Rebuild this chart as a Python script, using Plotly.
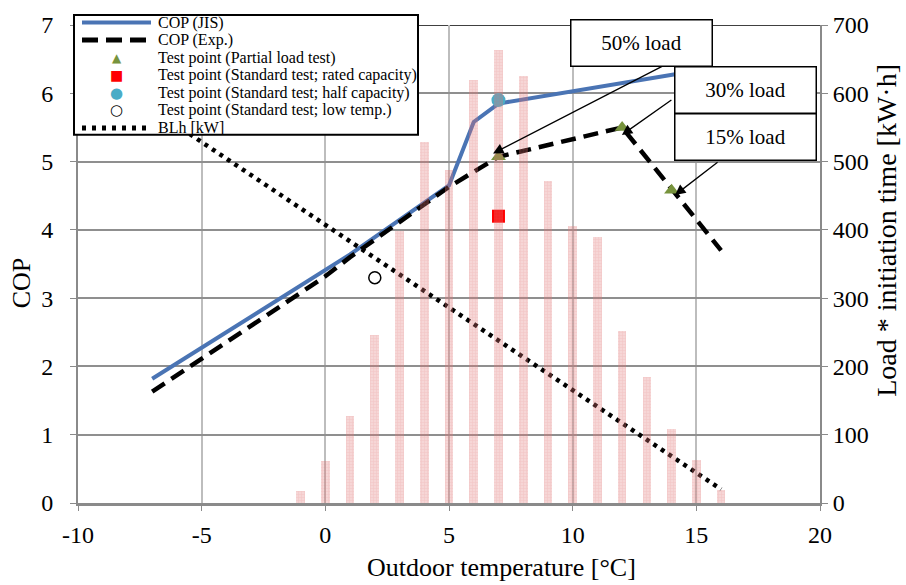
import plotly.graph_objects as go

# ---- data ----
bar_temp = [-1, 0, 1, 2, 3, 4, 5, 6, 7, 8, 9, 10, 11, 12, 13, 14, 15, 16]
bar_load = [17, 61, 127, 246, 399, 528, 488, 619, 664, 626, 472, 406, 389, 252, 185, 109, 63, 19]

jis_x = [-7, 1, 5, 6, 7, 15]
jis_y = [1.82, 3.64, 4.65, 5.58, 5.85, 6.33]

exp_x = [-7, 0, 1, 5, 7, 12, 16]
exp_y = [1.63, 3.32, 3.60, 4.63, 5.07, 5.50, 3.70]

partial_x = [7, 12, 14]
partial_y = [5.07, 5.50, 4.58]

rated_x = [7]
rated_y = [4.20]

half_x = [7]
half_y = [5.90]

low_x = [2]
low_y = [3.30]

blh_x = [-7, 16]
blh_y = [5.77, 0.20]

x_ticks = [-10, -5, 0, 5, 10, 15, 20]
x_ticklabels = ["-10", "-5", "0", "5", "10", "15", "20"]

callout_text = ["50% load", "30% load", "15% load"]
callout_x = [6.78, 11.99, 14.14]
callout_y = [5.12, 5.39, 4.51]

legend_names = ["COP (JIS)", "COP (Exp.)", "Test point (Partial load test)",
                "Test point (Standard test; rated capacity)",
                "Test point (Standard test; half capacity)",
                "Test point (Standard test; low temp.)", "BLh [kW]"]

x_title = "Outdoor temperature [°C]"
y_title = "COP"
y2_title = "Load * initiation time [kW·h]"

FONT = "Liberation Serif"
BLUE = "#4A74B4"
GREEN = "#77933C"
CYAN = "#4BACC6"

fig = go.Figure()

fig.add_trace(go.Bar(
    x=bar_temp, y=bar_load, yaxis="y2", width=0.35,
    marker=dict(color="rgba(228,120,120,0.30)", line=dict(width=0),
                pattern=dict(shape="+", size=3, solidity=0.25,
                             fgcolor="rgba(220,90,90,0.35)")),
    showlegend=False, hoverinfo="skip"))

fig.add_trace(go.Scatter(x=jis_x, y=jis_y, mode="lines", name=legend_names[0],
                         line=dict(color=BLUE, width=4)))
fig.add_trace(go.Scatter(x=exp_x, y=exp_y, mode="lines", name=legend_names[1],
                         line=dict(color="black", width=4.5, dash="15px,8px")))
fig.add_trace(go.Scatter(x=partial_x, y=partial_y, mode="markers", name=legend_names[2],
                         marker=dict(symbol="triangle-up", size=13, color=GREEN)))
fig.add_trace(go.Scatter(x=rated_x, y=rated_y, mode="markers", name=legend_names[3],
                         marker=dict(symbol="square", size=13, color="#FF0000")))
fig.add_trace(go.Scatter(x=half_x, y=half_y, mode="markers", name=legend_names[4],
                         marker=dict(symbol="circle", size=14, color=CYAN)))
fig.add_trace(go.Scatter(x=low_x, y=low_y, mode="markers", name=legend_names[5],
                         marker=dict(symbol="circle", size=12, color="white",
                                     line=dict(color="black", width=1.5))))
fig.add_trace(go.Scatter(x=blh_x, y=blh_y, mode="lines", name=legend_names[6],
                         line=dict(color="black", width=4.5, dash="4px,5px")))

# arrows (tail offsets in pixels)
arrow_ax = [171, 51, 44]
arrow_ay = [-88, -36, -34]
for xx, yy, axp, ayp in zip(callout_x, callout_y, arrow_ax, arrow_ay):
    fig.add_annotation(x=xx, y=yy, xref="x", yref="y", text="", showarrow=True,
                       ax=axp, ay=ayp, arrowhead=2, arrowsize=1.6, arrowwidth=1.3,
                       arrowcolor="black")

L, R, T, B = 78, 820, 20, 503
W, H = R - L, B - T


def px(xp):
    return (xp - L) / W


def py(yp):
    return (B - yp) / H


# callout boxes
box_px = [(641.5, 38), (745.5, 85.5), (745.5, 133.5)]
for txt, (cx, cy) in zip(callout_text, box_px):
    fig.add_annotation(x=px(cx), y=py(cy), xref="paper", yref="paper",
                       text=txt, showarrow=False, xanchor="center", yanchor="middle",
                       width=140, height=45, borderpad=0, bgcolor="white",
                       bordercolor="black", borderwidth=1.5,
                       font=dict(family=FONT, size=21, color="black"))

# axis titles
fig.add_annotation(x=px(501), y=py(568), xref="paper", yref="paper", text=x_title,
                   showarrow=False, xanchor="center", yanchor="middle",
                   font=dict(family=FONT, size=26, color="black"))
fig.add_annotation(x=px(21), y=py(280), xref="paper", yref="paper", text=y_title,
                   showarrow=False, xanchor="center", yanchor="middle", textangle=-90,
                   font=dict(family=FONT, size=26, color="black"))
fig.add_annotation(x=px(887), y=py(228), xref="paper", yref="paper", text=y2_title,
                   showarrow=False, xanchor="center", yanchor="middle", textangle=-90,
                   font=dict(family=FONT, size=28, color="black"))

# custom legend box (drawn with shapes and annotations)
fig.add_shape(type="rect", xref="paper", yref="paper", x0=px(74), x1=px(418),
              y0=py(131), y1=py(10), fillcolor="white",
              line=dict(color="black", width=2), layer="above")
rows = [17.5, 35.2, 53.0, 70.7, 88.4, 106.2, 124.0]
sx0, sx1, smid, tx = 82, 151, 116.5, 156
fig.add_shape(type="line", xref="paper", yref="paper", x0=px(sx0), x1=px(sx1),
              y0=py(rows[0]), y1=py(rows[0]), line=dict(color=BLUE, width=4), layer="above")
fig.add_shape(type="line", xref="paper", yref="paper", x0=px(sx0), x1=px(sx1),
              y0=py(rows[1]), y1=py(rows[1]), line=dict(color="black", width=5, dash="16px,8px"),
              layer="above")
fig.add_shape(type="line", xref="paper", yref="paper", x0=px(sx0), x1=px(sx1),
              y0=py(rows[6]), y1=py(rows[6]), line=dict(color="black", width=5, dash="4px,6px"),
              layer="above")
glyphs = [("▲", GREEN, 12), ("■", "#FF0000", 14), ("●", CYAN, 15), ("○", "black", 15)]
for (g, col, sz), ry in zip(glyphs, rows[2:6]):
    fig.add_annotation(x=px(smid), y=py(ry), xref="paper", yref="paper", text=g,
                       showarrow=False, xanchor="center", yanchor="middle",
                       font=dict(family="DejaVu Sans", size=sz, color=col))
for name, ry in zip(legend_names, rows):
    fig.add_annotation(x=px(tx), y=py(ry), xref="paper", yref="paper", text=name,
                       showarrow=False, xanchor="left", yanchor="middle",
                       font=dict(family=FONT, size=16, color="black"))

axis_font = dict(family=FONT, size=24, color="black")
fig.update_layout(
    width=906, height=585,
    margin=dict(l=L, r=906 - R, t=T, b=585 - B),
    paper_bgcolor="white", plot_bgcolor="white",
    font=dict(family=FONT, color="black"),
    bargap=0, showlegend=False,
    xaxis=dict(range=[-10, 20], tickvals=x_ticks, ticktext=x_ticklabels, showgrid=True,
               gridcolor="#BDBDBD", gridwidth=1.5, zeroline=False,
               showline=True, linecolor="#8A8A8A", linewidth=2.5,
               ticks="outside", ticklen=5, tickcolor="#8A8A8A",
               tickfont=axis_font, ticklabelstandoff=3),
    yaxis=dict(range=[0, 7], dtick=1, showgrid=True, gridcolor="#8F8F8F", gridwidth=1.5,
               zeroline=False, showline=True, linecolor="#8A8A8A", linewidth=2,
               ticks="outside", ticklen=6, tickcolor="#8A8A8A", tickfont=axis_font,
               ticklabelstandoff=12),
    yaxis2=dict(range=[0, 700], dtick=100, overlaying="y", side="right", showgrid=False,
                zeroline=False, showline=True, linecolor="#8A8A8A", linewidth=2,
                ticks="outside", ticklen=6, tickcolor="#8A8A8A", tickfont=axis_font),
)

fig.add_shape(type="line", xref="paper", yref="y", x0=0, x1=1, y0=7, y1=7,
              line=dict(color="black", width=1.5), layer="below")

fig.write_html("out.html")
